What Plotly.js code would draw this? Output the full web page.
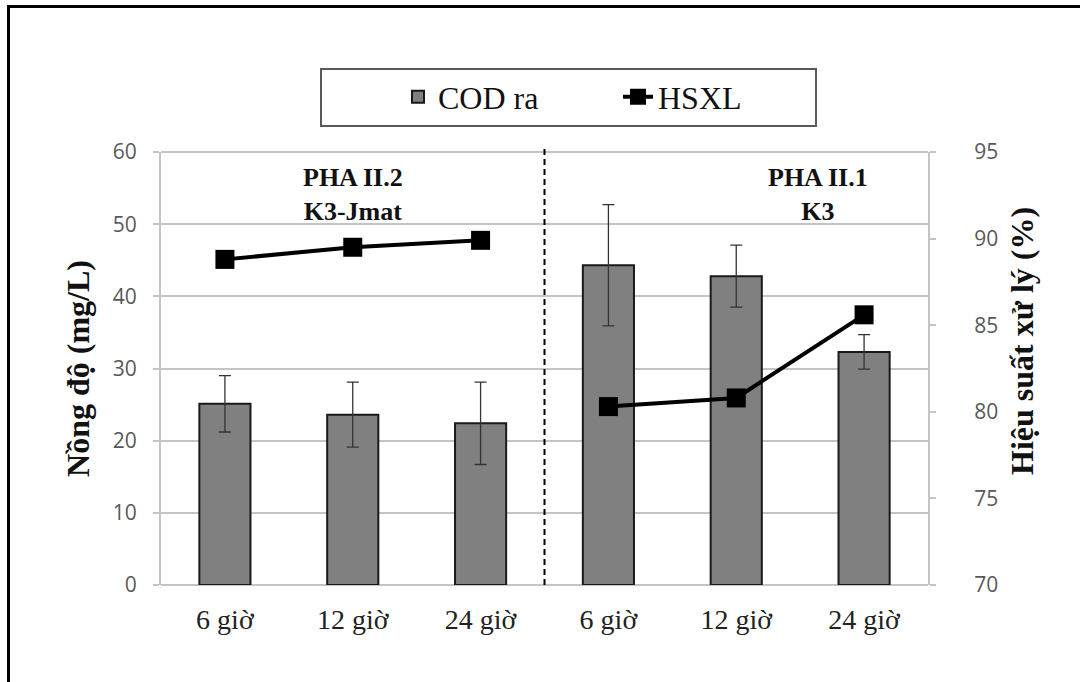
<!DOCTYPE html>
<html>
<head>
<meta charset="utf-8">
<script src="https://cdn.plot.ly/plotly-3.0.1.min.js"></script>
<style>
html,body{margin:0;padding:0;background:#fff;}
#chart{width:1080px;height:682px;}
#chart .legendtext{font-family:"Liberation Serif","Times New Roman",serif !important;}
</style>
</head>
<body>
<div id="chart"></div>
<script>
// ---- data ----
const categories = ["6 giờ", "12 giờ", "24 giờ", "6 giờ", "12 giờ", "24 giờ"];
const codRa = [25.1, 23.6, 22.4, 44.3, 42.8, 32.3];
const codErr = [3.9, 4.5, 5.7, 8.4, 4.3, 2.4];
const hsxl = [88.8, 89.5, 89.9, 80.3, 80.8, 85.6];
const phaseLabels = ["<b>PHA II.2</b><br><b>K3-Jmat</b>", "<b>PHA II.1</b><br><b>K3</b>"];
const seriesNames = ["COD ra", "HSXL"];
const axisTitles = ["<b>Nồng độ (mg/L)</b>", "<b>Hiệu suất xử lý (%)</b>"];

const xIdx = categories.map((_, i) => i);
const serif = "Liberation Serif";
const sans = "Open Sans";
const W = 1080, H = 682, L = 161, R = 152, T = 152, B = 97;
const pw = W - L - R, ph = H - T - B;
const px = x => (x - L) / pw;
const py = y => (H - B - y) / ph;

const lineStyle = {color: "#000", width: 4};
const markerStyle = {symbol: "square", size: 19, color: "#000"};

const traces = [
  {
    type: "bar", name: seriesNames[0], x: xIdx, y: codRa,
    marker: {color: "#808080", line: {color: "#1a1a1a", width: 2}},
    error_y: {type: "data", array: codErr, visible: true, color: "#333", thickness: 1.3, width: 6},
    yaxis: "y"
  },
  {
    type: "scatter", mode: "lines+markers", name: seriesNames[1],
    x: xIdx.slice(0, 3), y: hsxl.slice(0, 3),
    line: lineStyle, marker: markerStyle, yaxis: "y2", legendgroup: "h"
  },
  {
    type: "scatter", mode: "lines+markers", name: seriesNames[1], showlegend: false,
    x: xIdx.slice(3), y: hsxl.slice(3),
    line: lineStyle, marker: markerStyle, yaxis: "y2", legendgroup: "h"
  }
];

const layout = {
  width: W, height: H,
  margin: {l: L, r: R, t: T, b: B},
  paper_bgcolor: "#fff", plot_bgcolor: "#fff",
  font: {family: serif, color: "#111"},
  bargap: 0.6,
  showlegend: true,
  legend: {
    orientation: "h", x: px(398), xanchor: "left", y: py(97), yanchor: "middle",
    font: {family: serif, size: 32, color: "#111"},
    bgcolor: "rgba(0,0,0,0)", borderwidth: 0,
    entrywidth: 175, entrywidthmode: "pixels"
  },
  xaxis: {
    range: [-0.5, 5.5], tickvals: xIdx, ticktext: categories,
    tickfont: {family: serif, size: 28, color: "#222"},
    showgrid: false, zeroline: false, ticks: "", showline: false,
    ticklabelstandoff: 15
  },
  yaxis: {
    range: [0, 60], dtick: 10, tick0: 0,
    tickfont: {family: sans, size: 21, color: "#595959"},
    showgrid: true, gridcolor: "#c4c4c4", gridwidth: 2,
    zeroline: true, zerolinecolor: "#c4c4c4", zerolinewidth: 2,
    showline: true, linecolor: "#c4c4c4", linewidth: 2,
    ticks: "outside", ticklen: 6, tickcolor: "#c4c4c4", tickwidth: 2,
    ticklabelstandoff: 12,
    title: {text: axisTitles[0], font: {family: serif, size: 32, color: "#111"}, standoff: 14}
  },
  yaxis2: {
    range: [70, 95], dtick: 5, tick0: 70, overlaying: "y", side: "right",
    tickfont: {family: sans, size: 21, color: "#595959"},
    showgrid: false, zeroline: false,
    showline: true, linecolor: "#c4c4c4", linewidth: 2,
    ticks: "outside", ticklen: 6, tickcolor: "#c4c4c4", tickwidth: 2,
    ticklabelstandoff: 34
  },
  shapes: [
    {type: "line", xref: "paper", yref: "paper", x0: 0, x1: 1, y0: 1, y1: 1, line: {color: "#c4c4c4", width: 2}, layer: "below"},
    {type: "line", xref: "x", yref: "paper", x0: 2.5, x1: 2.5, y0: 0, y1: 1.01, line: {color: "#000", width: 2, dash: "6px,4px"}},
    {type: "rect", xref: "paper", yref: "paper", x0: px(321), x1: px(816), y0: py(126), y1: py(69), line: {color: "#595959", width: 2}},
    {type: "line", xref: "paper", yref: "paper", x0: px(8.5), x1: px(8.5), y0: py(6.5), y1: py(690), line: {color: "#000", width: 3}},
    {type: "line", xref: "paper", yref: "paper", x0: px(7), x1: px(1090), y0: py(6.5), y1: py(6.5), line: {color: "#000", width: 3}}
  ],
  annotations: [
    {xref: "x", yref: "paper", x: 1, y: py(194), yanchor: "middle", text: phaseLabels[0], showarrow: false,
     font: {family: serif, size: 26, color: "#111"}, align: "center"},
    {xref: "x", yref: "paper", x: 4.64, y: py(194), yanchor: "middle", text: phaseLabels[1], showarrow: false,
     font: {family: serif, size: 26, color: "#111"}, align: "center"},
    {xref: "paper", yref: "paper", x: px(1022), y: py(341), xanchor: "center", yanchor: "middle", textangle: -90,
     text: axisTitles[1], showarrow: false, font: {family: serif, size: 32, color: "#111"}}
  ]
};

Plotly.newPlot("chart", traces, layout, {displayModeBar: false, staticPlot: true});
</script>
</body>
</html>
